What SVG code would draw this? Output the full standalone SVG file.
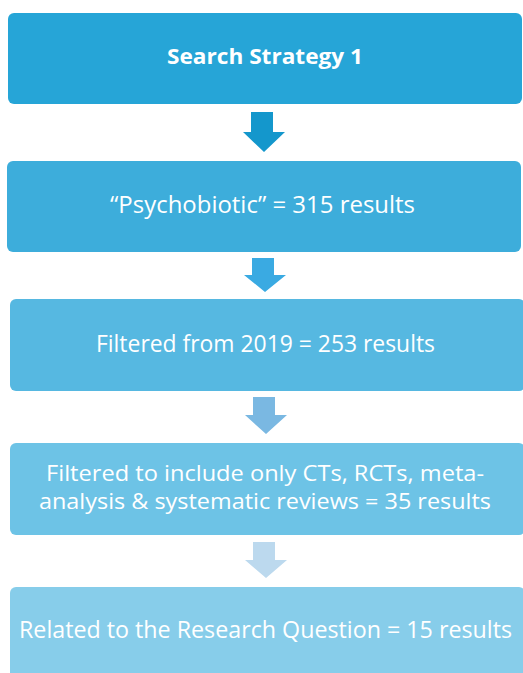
<svg xmlns="http://www.w3.org/2000/svg" width="523" height="673" viewBox="0 0 523 673">
<style>
.t{font-family:"Open Sans","Liberation Sans",Arial,sans-serif;font-size:23px;fill:#ffffff;text-anchor:middle}
.b{font-weight:bold;font-size:21px}
.s{font-size:21px}
</style>
<rect width="523" height="673" fill="#ffffff"/>
<g id="connectors">
<path d="M251 112H273V132H285L264 152L243 132H251Z" fill="#1497CC"/>
<path d="M252 258H274V275H286L265 292L244 275H252Z" fill="#3AAAE2"/>
<path d="M253 397H275V415H287L266 434L245 415H253Z" fill="#7AB8E2"/>
<path d="M253 542H275V560H287L266 578L245 560H253Z" fill="#BCD9EE"/>
</g>
<g id="n1"><rect x="8" y="13" width="514" height="91" rx="6" fill="#26A5D7"/><text class="t b" x="265" y="64" textLength="196" lengthAdjust="spacingAndGlyphs">Search Strategy 1</text></g>
<g id="n2"><rect x="7" y="161" width="514" height="91" rx="6" fill="#3DADDB"/><text class="t" x="262.5" y="213" textLength="305" lengthAdjust="spacingAndGlyphs">“Psychobiotic” = 315 results</text></g>
<g id="n3"><rect x="10" y="299" width="515" height="92" rx="6" fill="#56B8E1"/><text class="t" x="265.5" y="352" textLength="339" lengthAdjust="spacingAndGlyphs">Filtered from 2019 = 253 results</text></g>
<g id="n4"><rect x="10" y="443" width="515" height="92" rx="6" fill="#6DC3E6"/><text class="t s" x="265" y="481" textLength="438" lengthAdjust="spacingAndGlyphs">Filtered to include only CTs, RCTs, meta-</text><text class="t s" x="265" y="509" textLength="452" lengthAdjust="spacingAndGlyphs">analysis &amp; systematic  reviews = 35 results</text></g>
<g id="n5"><rect x="10" y="587" width="515" height="100" rx="6" fill="#87CDEA"/><text class="t" x="265.5" y="638" textLength="493" lengthAdjust="spacingAndGlyphs">Related to the Research Question = 15 results</text></g>
</svg>
